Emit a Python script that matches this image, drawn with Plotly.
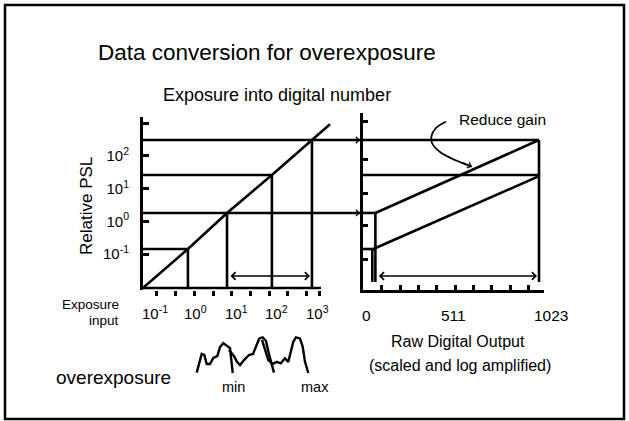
import numpy as np
import plotly.graph_objects as go

# ---------------- data ----------------
exposure_levels = [0.65, 6.0, 77.0, 750.0]        # exposure at the four reference levels
psl_levels = [0.142, 1.8, 26.0, 305.0]            # relative PSL reached at those exposures
diag_exposure = [0.05, 0.65, 6.0, 77.0, 750.0, 2100.0]
diag_psl = [0.0091, 0.142, 1.8, 26.0, 305.0, 930.0]
psl_floor = 0.0091                                 # PSL at the exposure axis
exposure_axis_end = 1250.0
exposure_to_output_axis = 14000.0                  # lines carried over to the output axis
range_arrow_psl = 0.0212
carried_levels = [1, 3]                            # levels whose lines continue to the right panel

exposure_label_vals = [0.1, 1, 10, 100, 1000]
exposure_label_text = ["10<sup>-1</sup>", "10<sup>0</sup>", "10<sup>1</sup>",
                       "10<sup>2</sup>", "10<sup>3</sup>"]
psl_tick_vals = [0.1, 1, 10, 100, 1000]
psl_tick_text = ["10<sup>-1</sup>", "10<sup>0</sup>", "10<sup>1</sup>", "10<sup>2</sup>", ""]
exposure_mark_logs = [-0.951, -0.489, -0.028, 0.434, 0.896, 1.357, 1.819, 2.281, 2.742, 3.05]

output_max = 1023
output_label_vals = [0, 511, 1023]
output_label_text = ["0", "511", "1023"]
output_label_shift = [3, 3, 12]
output_marks = [110, 216, 323, 430, 536, 643, 749, 856, 962, 1050]
output_psl_ticks = [0.066, 0.77, 7.3, 80, 1090]
box_out = 72          # digital value where the low-gain box ends
low_out = 54
low_diag_start = 60
out_floor_psl = 0.014
lower_end_psl = 24.0
gain_curve_out = [482, 424, 398, 401, 448, 535, 632]
gain_curve_psl = [1112, 713, 406, 248, 131, 75, 46.8]

# histogram sketch (log10 exposure, relative count)
hist1_logE = [0.030, 0.153, 0.217, 0.277, 0.358, 0.440, 0.538, 0.605, 0.686, 0.778, 0.852, 0.919]
hist1_cnt = [0.01, 0.53, 0.50, 0.25, 0.25, 0.42, 0.47, 0.72, 0.83, 0.75, 0.69, 0.0]
hist2_logE = [0.827, 0.951, 1.025, 1.099, 1.198, 1.321, 1.420, 1.511, 1.575, 1.659, 1.741,
              1.807, 1.881, 1.938]
hist2_cnt = [0.64, 0.47, 0.31, 0.22, 0.36, 0.50, 0.53, 0.78, 0.96, 0.99, 0.89, 0.56, 0.22, 0.01]
hist3_logE = [1.642, 1.741, 1.798, 1.906, 2.005, 2.104, 2.210, 2.291, 2.351, 2.415, 2.481,
              2.580, 2.647, 2.704, 2.785]
hist3_cnt = [0.92, 0.58, 0.36, 0.25, 0.31, 0.27, 0.41, 0.31, 0.55, 0.87, 0.99, 0.96, 0.73,
             0.31, 0.0]

# ---------------- layout calibration (pixels of a 629x421 canvas) ----------------
W, H = 629, 421
FONT = "Liberation Sans, Arial, sans-serif"


def fx(px):
    return px / W


def fy(py):
    return 1 - py / H


def log_e(px):          # left panel exposure axis
    return -1 + (px - 155) / 40.5


def log_p(py):          # PSL axis (shared by both panels)
    return -1 + (254 - py) / 32.7


OUT_PX = 176 / 1023     # pixels per digital unit


def cnt(py):
    return (373 - py) / 36


LW = 2.6
BLACK = "black"

fig = go.Figure()


def line(x, y, xa="x", ya="y", w=LW, shape="linear"):
    fig.add_trace(go.Scatter(x=x, y=y, mode="lines", xaxis=xa, yaxis=ya,
                             line=dict(color=BLACK, width=w, shape=shape),
                             hoverinfo="skip", showlegend=False))


# ---- left panel ----
line([diag_exposure[0], exposure_axis_end], [psl_floor, psl_floor])
line(diag_exposure, diag_psl)
for i, (e, p) in enumerate(zip(exposure_levels, psl_levels)):
    end = exposure_to_output_axis if i in carried_levels else e
    line([diag_exposure[0], end], [p, p])
    line([e, e], [psl_floor, p])

# ---- right panel ----
for p in (psl_levels[3], psl_levels[2]):
    line([0, output_max], [p, p], "x2", "y2")
line([0, box_out], [psl_levels[1], psl_levels[1]], "x2", "y2")
line([0, box_out], [psl_levels[0], psl_levels[0]], "x2", "y2")
line([box_out, box_out], [out_floor_psl, psl_levels[1]], "x2", "y2")
line([low_out, low_out], [out_floor_psl, psl_levels[0]], "x2", "y2")
line([box_out, output_max], [psl_levels[1], psl_levels[3]], "x2", "y2")
line([low_diag_start, output_max], [psl_levels[0], lower_end_psl], "x2", "y2")
line([output_max, output_max], [out_floor_psl, psl_levels[3]], "x2", "y2")
line(gain_curve_out, gain_curve_psl, "x2", "y2", w=1.8, shape="spline")

# ---- histogram sketch ----
for lx, c in ((hist1_logE, hist1_cnt), (hist2_logE, hist2_cnt), (hist3_logE, hist3_cnt)):
    line(list(10 ** np.array(lx)), c, "x", "y3", w=2.4)

ann = []


def text(t, x, y, size, xanchor="center", angle=0, **kw):
    ann.append(dict(text=t, x=x, y=y, xref=kw.pop("xref", "paper"), yref="paper",
                    showarrow=False, xanchor=xanchor, yanchor="middle", textangle=angle,
                    font=dict(family=FONT, size=size, color=BLACK), **kw))


text("Data conversion for overexposure", fx(267), fy(53), 22.5)
text("Exposure into digital number", fx(277), fy(95), 18)
text("Relative PSL", fx(86), fy(206), 17, angle=-90)
text("Exposure", fx(121), fy(304), 13.5, xanchor="right")
text("input", fx(121), fy(320), 13.5, xanchor="right")
text("overexposure", fx(54), fy(377), 19, xanchor="left")
text("min", fx(233.5), fy(387), 14.5)
text("max", fx(315), fy(387), 14.5)
text("Raw Digital Output", fx(458), fy(341), 16)
text("(scaled and log amplified)", fx(460), fy(365), 16)
text("Reduce gain", fx(502), fy(119), 15.5)
for v, t in zip(exposure_label_vals, exposure_label_text):
    text(t, np.log10(v), fy(312), 15, xref="x")
for v, t, s in zip(output_label_vals, output_label_text, output_label_shift):
    text(t, v, fy(315), 15.5, xref="x2", xshift=s)

arrow = dict(showarrow=True, text="", arrowcolor=BLACK, arrowhead=4, arrowsize=1,
             arrowwidth=1.5)
ly = np.log10(range_arrow_psl)
ann.append(dict(arrow, x=np.log10(exposure_levels[3]), y=ly, xref="x", yref="y",
                ax=np.log10(exposure_levels[1]), ay=ly, axref="x", ayref="y",
                arrowside="end+start", startarrowhead=4, standoff=2, startstandoff=2))
ann.append(dict(arrow, x=output_max, y=ly, xref="x2", yref="y2",
                ax=box_out, ay=ly, axref="x2", ayref="y2",
                arrowside="end+start", startarrowhead=4, standoff=2, startstandoff=2))
for i in carried_levels:
    ann.append(dict(arrow, x=log_e(360), y=np.log10(psl_levels[i]), xref="x", yref="y",
                    ax=-9, ay=0, arrowsize=0.8))
ann.append(dict(arrow, x=gain_curve_out[-1], y=np.log10(gain_curve_psl[-1]),
                xref="x2", yref="y2", ax=-11, ay=-5, arrowsize=0.8))

axis_common = dict(showgrid=False, zeroline=False, linecolor=BLACK, tickcolor=BLACK,
                   fixedrange=True)

fig.update_layout(
    width=W, height=H, margin=dict(l=0, r=0, t=0, b=0),
    paper_bgcolor="white", plot_bgcolor="rgba(0,0,0,0)",
    showlegend=False, hovermode=False,
    font=dict(family=FONT, color=BLACK),
    xaxis=dict(axis_common, type="log", domain=[fx(143), fx(363)],
               range=[log_e(143), log_e(363)], anchor="y", showline=False,
               tickmode="array", tickvals=list(10 ** np.array(exposure_mark_logs)),
               ticks="outside", ticklen=5, tickwidth=2.5, showticklabels=False),
    yaxis=dict(axis_common, type="log", domain=[fy(290), fy(117)],
               range=[log_p(290), log_p(117)], anchor="x", showline=True, linewidth=3,
               tickmode="array", tickvals=psl_tick_vals, ticktext=psl_tick_text,
               ticks="inside", ticklen=6, tickwidth=3, ticklabelstandoff=8,
               tickfont=dict(family=FONT, size=15, color=BLACK)),
    xaxis2=dict(axis_common, domain=[fx(363), fx(544)], range=[0, 181 / OUT_PX],
                anchor="y2", showline=True, linewidth=2.6,
                tickmode="array", tickvals=output_marks, ticks="inside", ticklen=5,
                tickwidth=2.5, showticklabels=False),
    yaxis2=dict(axis_common, type="log", domain=[fy(290), fy(113)],
                range=[log_p(290), log_p(113)], anchor="x2", showline=True, linewidth=3,
                tickmode="array", tickvals=output_psl_ticks, ticks="inside", ticklen=5,
                tickwidth=2.5, showticklabels=False),
    yaxis3=dict(domain=[fy(380), fy(330)], range=[cnt(380), cnt(330)], anchor="x",
                visible=False, fixedrange=True),
    annotations=ann,
    shapes=[dict(type="rect", xref="paper", yref="paper", x0=fx(5), x1=fx(624),
                 y0=fy(419), y1=fy(5), line=dict(color=BLACK, width=2.5))],
)

fig.write_html("out.html", config={"displayModeBar": False},
               post_script="document.body.style.margin='0';")
